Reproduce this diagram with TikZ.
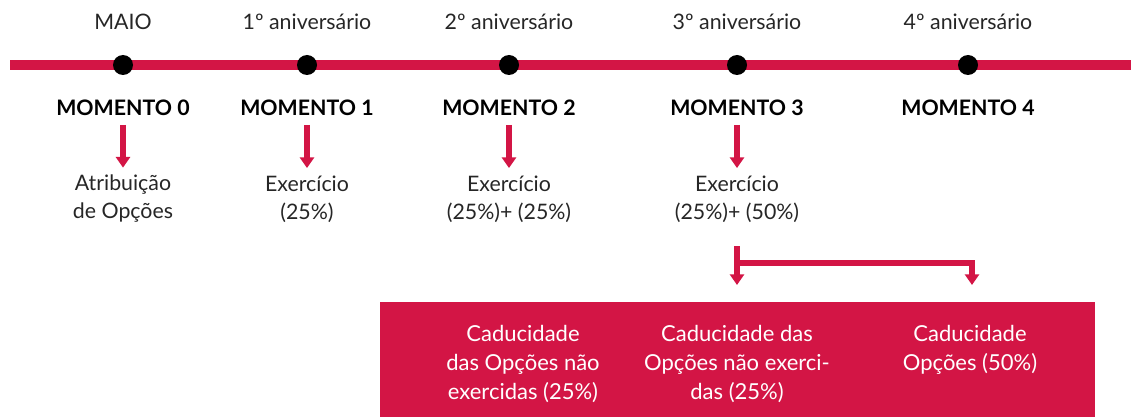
\documentclass[tikz,border=0pt]{standalone}
\usepackage{fontspec}
\setmainfont{Lato}
\usetikzlibrary{positioning,arrows.meta}

\begin{document}
\begin{tikzpicture}[x=0.75pt,y=-0.75pt,every node/.style={font=\fontsize{16}{21}\selectfont}]
		% Define colors
		\definecolor{timered}{RGB}{211, 21, 69}

		% Styles
		\tikzstyle{dot} = [circle, fill=black, inner sep=0pt, minimum size=15pt]
		\tikzstyle{date_label} = [text=black!85, align=center]
		\tikzstyle{moment_label} = [font=\fontsize{16}{21}\selectfont\bfseries, inner sep=1pt]
		\tikzstyle{event_label} = [text=black!85, align=center, inner sep=1pt]
		\tikzstyle{red_arrow} = [draw=timered, line width=4.5pt, -{Triangle[width=10.5pt,length=8pt]}]
		\tikzstyle{expiry_text} = [text=white, align=center, font=\fontsize{16.5}{21.75}\selectfont]

		% Bounding box
		\useasboundingbox (0,0) rectangle (1131,417);

		% Timeline
		\coordinate (lstart) at (10,65);
		\coordinate (lend) at (1131,65);
		\draw[timered, line width=7.5pt] (lstart) -- (lend);

		% Dots on the timeline
		\node[dot] (d0) at (123,65) {};
		\node[dot] (d1) at (307,65) {};
		\node[dot] (d2) at (509,65) {};
		\node[dot] (d3) at (737,65) {};
		\node[dot] (d4) at (968,65) {};

		% Dates above
		\node[date_label] (y0) at (123,22) {MAIO};
		\node[date_label] (y1) at (307,22) {1º aniversário};
		\node[date_label] (y2) at (509,22) {2º aniversário};
		\node[date_label] (y3) at (737,22) {3º aniversário};
		\node[date_label] (y4) at (968,22) {4º aniversário};

		% Moments below
		\node[moment_label] (m0) at (123,108) {MOMENTO 0};
		\node[moment_label] (m1) at (307,108) {MOMENTO 1};
		\node[moment_label] (m2) at (509,108) {MOMENTO 2};
		\node[moment_label] (m3) at (737,108) {MOMENTO 3};
		\node[moment_label] (m4) at (968,108) {MOMENTO 4};

		% What happens at each moment
		\node[event_label] (e0) at (123,199) {Atribuição\\de Opções};
		\node[event_label] (e1) at (307,199) {Exercício\\(25\%)};
		\node[event_label] (e2) at (509,199) {Exercício\\(25\%)+ (25\%)};
		\node[event_label] (e3) at (737,199) {Exercício\\(25\%)+ (50\%)};

		% Arrows
		\draw[red_arrow, shorten <=5.5pt, shorten >=4.5pt] (m0.south) -- (e0.north);
		\draw[red_arrow, shorten <=5.5pt, shorten >=4.5pt] (m1.south) -- (e1.north);
		\draw[red_arrow, shorten <=5.5pt, shorten >=4.5pt] (m2.south) -- (e2.north);
		\draw[red_arrow, shorten <=5.5pt, shorten >=4.5pt] (m3.south) -- (e3.north);

		% Expiry box
		\node[fill=timered, minimum width=536.25pt, minimum height=86.25pt, inner sep=0pt] (exp) at (737.5,359.5) {};
		\node[expiry_text] (c0) at (523,364) {Caducidade\\das Opções não\\exercidas (25\%)};
		\node[expiry_text] (c1) at (737,364) {Caducidade das\\Opções não exerci-\\das (25\%)};
		\node[expiry_text] (c2) at (970,349.5) {Caducidade\\Opções (50\%)};

		% Split arrow to the box
		\coordinate (split) at (737,246);
		\coordinate (tipa) at (737,285);
		\coordinate (branch) at (737,263);
		\coordinate (tipb) at (972,285);
		\draw[red_arrow] (split) -- (tipa);
		\draw[red_arrow] (branch) -| (tipb);

	\end{tikzpicture}
\end{document}
